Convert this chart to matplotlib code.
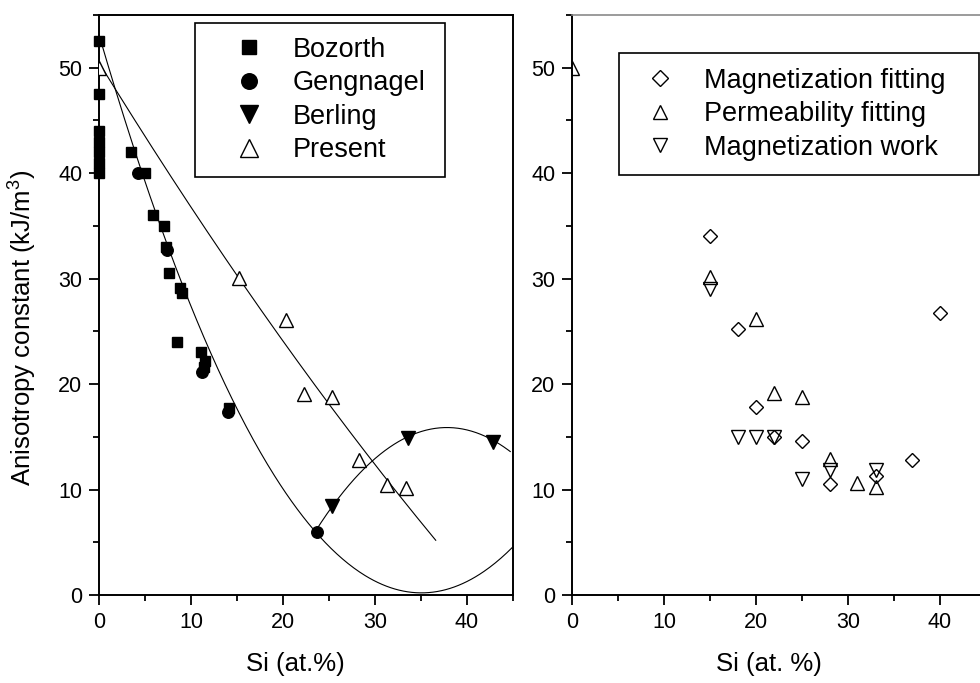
import numpy as np
import matplotlib
matplotlib.use("Agg")
import matplotlib.pyplot as plt
from matplotlib.ticker import MultipleLocator

plt.rcParams['font.family'] = ['Liberation Sans', 'DejaVu Sans']
plt.rcParams['mathtext.fontset'] = 'custom'
plt.rcParams['mathtext.rm'] = 'Liberation Sans'
plt.rcParams['mathtext.it'] = 'Liberation Sans:italic'

# ---------------- data: left panel ----------------
bozorth_x = [0, 0, 0, 0, 0, 0, 0, 3.5, 5.0, 5.9, 7.1, 7.3, 7.6, 8.8, 9.0, 8.5, 11.1, 11.5, 11.4, 14.1]
bozorth_y = [52.5, 47.5, 44, 43, 42, 41, 40, 42, 40, 36, 35, 33, 30.5, 29.1, 28.6, 24, 23, 22.2, 21.6, 17.7]
geng_x = [4.2, 7.4, 11.2, 14.0, 23.7]
geng_y = [40, 32.7, 21.1, 17.4, 6.0]
berling_x = [25.3, 33.6, 42.8]
berling_y = [8.4, 14.9, 14.5]
present_x = [0, 15.2, 20.3, 22.3, 25.3, 28.3, 31.3, 33.4]
present_y = [50, 30.1, 26.1, 19.1, 18.8, 12.8, 10.4, 10.1]

fit1_x = [0.3, 2.5, 5.2, 9.1, 11.7, 14.6, 19.3, 23.3, 27.3, 35.1, 45.2]
fit1_y = [52.5, 45.1, 39.5, 29.2, 23.6, 18.5, 11.0, 6.2, 2.85, 0.2, 4.75]
fit2_x = [0, 1.0, 13.2, 16.7, 36.6]
fit2_y = [50.6, 48.9, 32.8, 28.0, 5.2]
fit3_x = [23.5, 25.3, 33.6, 37.8, 44.7]
fit3_y = [6.0, 8.35, 15.0, 15.9, 13.6]

# ---------------- data: right panel ----------------
magfit_x = [15, 18, 20, 22, 25, 28, 33, 37, 40]
magfit_y = [34, 25.2, 17.8, 15.0, 14.6, 10.5, 11.3, 12.8, 26.7]
perm_x = [0, 15, 20, 22, 25, 28, 31, 33]
perm_y = [50, 30.2, 26.2, 19.2, 18.8, 12.9, 10.6, 10.2]
magwork_x = [15, 18, 20, 22, 25, 28, 33]
magwork_y = [29, 15, 15, 15, 11, 11.9, 11.9]

W, H = 980, 683
fig = plt.figure(figsize=(W / 100, H / 100), dpi=100)

def px_axes(x0, x1, ytop, ybot):
    return fig.add_axes([x0 / W, 1 - ybot / H, (x1 - x0) / W, (ybot - ytop) / H])

axL = px_axes(99, 513, 15, 595)
axR = px_axes(572, 986, 15, 595)

for ax in (axL, axR):
    ax.set_xlim(0, 45)
    ax.set_ylim(0, 55)
    ax.xaxis.set_major_locator(MultipleLocator(10))
    ax.xaxis.set_minor_locator(MultipleLocator(5))
    ax.yaxis.set_major_locator(MultipleLocator(10))
    ax.yaxis.set_minor_locator(MultipleLocator(5))
    ax.tick_params(which='major', direction='out', length=7, width=1.3,
                   labelsize=15.5, pad=5, color='black')
    ax.tick_params(which='minor', direction='out', length=4, width=1.3)
    ax.tick_params(top=False, right=False, which='both')
    for s in ax.spines.values():
        s.set_linewidth(1.4)
        s.set_color('black')
    ax.set_xlabel('Si (at.%)' if ax is axL else 'Si (at. %)', fontsize=18.5)
    ax.xaxis.set_label_coords(0.475, -0.098)

axR.spines['top'].set_color('#8a8a8a')
axR.spines['top'].set_linewidth(1.2)

axL.set_ylabel('Anisotropy constant (kJ/m$^3$)', fontsize=18.5)
axL.yaxis.set_label_coords(-0.146, 0.46)

# fit curves
def draw_fit(ax, fx, fy, deg, lo, hi):
    c = np.polyfit(fx, fy, deg)
    xx = np.linspace(lo, hi, 300)
    ax.plot(xx, np.polyval(c, xx), color='black', lw=0.8, zorder=2)

draw_fit(axL, fit1_x, fit1_y, 3, 0.0, 46)
draw_fit(axL, fit2_x, fit2_y, 2, 0.0, 36.6)
draw_fit(axL, fit3_x, fit3_y, 2, 23.5, 44.7)

mk = dict(linestyle='none', markeredgecolor='black', markeredgewidth=1.0)
axL.plot(bozorth_x, bozorth_y, marker='s', ms=7.3, color='black', label='Bozorth',
         clip_on=False, zorder=4, **mk)
axL.plot(geng_x, geng_y, marker='o', ms=8.3, color='black', label='Gengnagel', zorder=4, **mk)
axL.plot(berling_x, berling_y, marker='v', ms=9.8, color='black', label='Berling', zorder=4, **mk)
axL.plot(present_x, present_y, marker='^', ms=9.8, markerfacecolor='white', label='Present',
         zorder=4, **mk)

axR.plot(magfit_x, magfit_y, marker='D', ms=7.2, markerfacecolor='none',
         label='Magnetization fitting', zorder=4, **mk)
axR.plot(perm_x, perm_y, marker='^', ms=9.8, markerfacecolor='none',
         label='Permeability fitting', zorder=4, **mk)
axR.plot(magwork_x, magwork_y, marker='v', ms=9.8, markerfacecolor='none',
         label='Magnetization work', zorder=4, **mk)

legL = axL.legend(loc='upper left', bbox_to_anchor=(195 / W, 1 - 176 / H, 250 / W, 153 / H),
                  mode='expand',
                  bbox_transform=fig.transFigure, borderaxespad=0, fontsize=19.5,
                  frameon=True, fancybox=False, framealpha=1, edgecolor='black',
                  handlelength=3.0, handletextpad=0.1, labelspacing=0.28,
                  borderpad=0.5, numpoints=1, markerscale=1.35)
legL.get_frame().set_linewidth(1.2)

legR = axR.legend(loc='upper left', bbox_to_anchor=(619 / W, 1 - 174 / H, 360 / W, 121 / H),
                  mode='expand',
                  bbox_transform=fig.transFigure, borderaxespad=0, fontsize=19.5,
                  frameon=True, fancybox=False, framealpha=1, edgecolor='black',
                  handlelength=1.9, handletextpad=0.7, labelspacing=0.27,
                  borderpad=0.55, numpoints=1, markerscale=1.1)
legR.get_frame().set_linewidth(1.2)

fig.savefig('out.png', dpi=100)
